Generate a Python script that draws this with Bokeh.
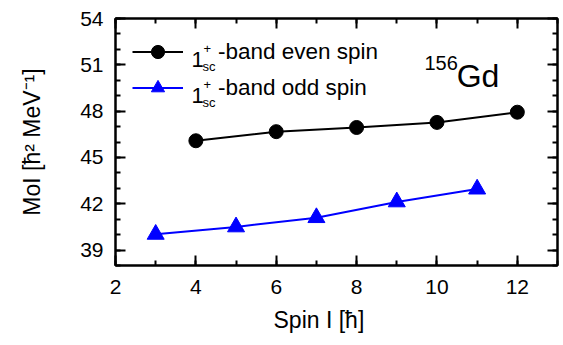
from bokeh.plotting import figure
from bokeh.models import (LinearAxis, SingleIntervalTicker, Legend, LegendItem,
                          Label, CustomLabelingPolicy, Title)
from bokeh.embed import file_html
from bokeh.resources import INLINE

# data
even_spin = [4, 6, 8, 10, 12]
even_moi = [46.08, 46.67, 46.94, 47.27, 47.93]
odd_spin = [3, 5, 7, 9, 11]
odd_moi = [40.02, 40.50, 41.10, 42.12, 42.95]

even_label = "-band even spin"
odd_label = "-band odd spin"
x_title = "Spin I [ħ]"
y_title = "MoI [ħ² MeV⁻¹]"

FONT = "Liberation Sans"

p = figure(width=563, height=345, x_range=(2, 13), y_range=(38, 54),
           output_backend="svg", toolbar_location=None,
           min_border_left=115, min_border_right=6, min_border_top=18,
           min_border_bottom=80, x_axis_location=None, y_axis_location=None)
p.xgrid.visible = False
p.ygrid.visible = False
p.outline_line_color = "black"
p.outline_line_width = 2
p.background_fill_color = "white"
p.border_fill_color = "white"


def style(ax, labels=True):
    ax.axis_line_color = "black"
    ax.axis_line_width = 2
    ax.major_tick_line_width = 2
    ax.minor_tick_line_width = 2
    ax.major_tick_in = 10
    ax.major_tick_out = 0
    ax.minor_tick_in = 5
    ax.minor_tick_out = 0
    ax.major_label_text_font = FONT
    ax.major_label_text_color = "black"
    ax.axis_label_text_font = FONT
    ax.axis_label_text_font_style = "normal"
    ax.axis_label_text_color = "black"
    if labels:
        ax.major_label_text_font_size = "21px"
        ax.axis_label_text_font_size = "23px"
    else:
        ax.major_label_policy = CustomLabelingPolicy(code="return []")
        ax.major_label_text_font_size = "0px"
        ax.major_label_standoff = 0


xt = SingleIntervalTicker(interval=2, num_minor_ticks=2)
yt = SingleIntervalTicker(interval=3, num_minor_ticks=3)

xb = LinearAxis(ticker=xt)
style(xb)
xb.major_label_standoff = 14
p.add_layout(xb, "below")

# x axis title (slightly left of centre, as in the reference)
p.add_layout(Title(text=x_title, align="left", offset=158, standoff=16,
                   text_font=FONT, text_font_size="23px",
                   text_font_style="normal", text_color="black"), "below")

xa = LinearAxis(ticker=xt)
style(xa, labels=False)
p.add_layout(xa, "above")

yl = LinearAxis(ticker=yt, axis_label=y_title)
style(yl)
yl.major_label_standoff = 12
yl.axis_label_standoff = 32
p.add_layout(yl, "left")

yr = LinearAxis(ticker=yt)
style(yr, labels=False)
p.add_layout(yr, "right")

l1 = p.line(even_spin, even_moi, line_color="black", line_width=2)
s1 = p.scatter(even_spin, even_moi, marker="circle", size=14,
               fill_color="black", line_color="black")
l2 = p.line(odd_spin, odd_moi, line_color="#0000FF", line_width=2)
s2 = p.scatter(odd_spin, odd_moi, marker="triangle", size=17,
               fill_color="#0000FF", line_color="#0000FF")

legend = Legend(items=[LegendItem(label=even_label, renderers=[l1, s1]),
                       LegendItem(label=odd_label, renderers=[l2, s2])],
                location="top_left", margin=0, padding=17,
                glyph_width=51, glyph_height=33, label_height=33,
                spacing=3, label_standoff=35,
                border_line_alpha=0, background_fill_alpha=0,
                label_text_font=FONT, label_text_font_size="22.5px",
                label_text_color="black")
p.add_layout(legend)


def txt(x, y, s, size, align="left"):
    p.add_layout(Label(x=x, y=y, text=s, text_font=FONT, text_font_size=size,
                       text_baseline="alphabetic", text_align=align,
                       text_color="black"))


# "1+sc" prefix of each legend label
for dy in (0.0, -2.336):
    txt(3.89, 51.37 + dy, "1", "22px")
    txt(4.19, 52.05 + dy, "+", "13px")
    txt(4.165, 50.92 + dy, "sc", "13px")

# nucleus label
txt(9.69, 51.11, "156", "20px")
txt(10.49, 50.27, "Gd", "32px")

open("out.html", "w").write(file_html(p, INLINE))
